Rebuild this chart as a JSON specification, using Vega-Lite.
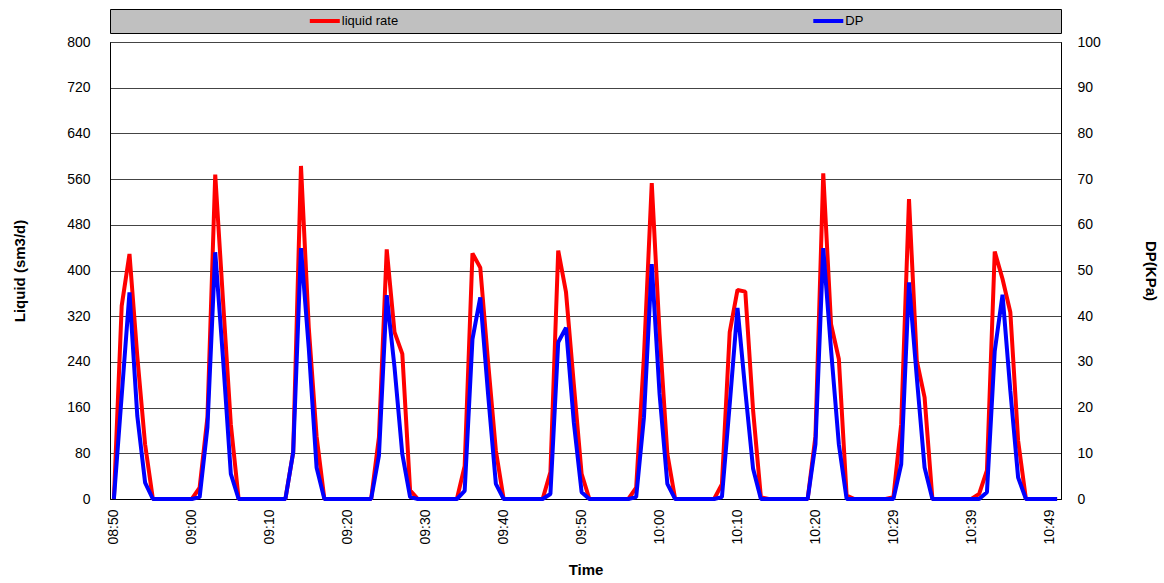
{
  "$schema": "https://vega.github.io/schema/vega-lite/v6.json",
  "background": "white",
  "padding": {"left": 12, "top": 8, "right": 4, "bottom": 4},
  "bounds": "flush",
  "spacing": 9,
  "config": {
    "font": "Liberation Sans",
    "axis": {"labelFont": "Liberation Sans", "titleFont": "Liberation Sans", "labelColor": "#000", "titleColor": "#000"}
  },
  "vconcat": [
    {
      "width": 951,
      "height": 24,
      "view": {"fill": "#c0c0c0", "stroke": "#000", "strokeWidth": 1},
      "data": {"values": [{"series": "liquid rate"}, {"series": "DP"}]},
      "encoding": {
        "x": {"field": "series", "type": "nominal", "scale": {"type": "point", "domain": ["liquid rate", "DP"], "padding": 0.4444, "align": 0.48}, "axis": null}
      },
      "layer": [
        {
          "mark": {"type": "point", "shape": "M-1,0L1,0", "size": 900, "strokeWidth": 4, "filled": false, "opacity": 1},
          "encoding": {"color": {"field": "series", "type": "nominal", "scale": {"domain": ["liquid rate", "DP"], "range": ["#ff0000", "#0000ff"]}, "legend": null}}
        },
        {
          "mark": {"type": "text", "align": "left", "dx": 17, "fontSize": 13, "font": "Liberation Sans", "color": "#000"},
          "encoding": {"text": {"field": "series"}}
        }
      ]
    },
    {
      "width": 951,
      "height": 457,
      "view": {"stroke": "#000", "strokeWidth": 1, "fill": "white"},
      "data": {"values": [
        {"time": "08:50:45", "liquid": 0, "dp": 0},
        {"time": "08:51:44", "liquid": 338, "dp": 22.6},
        {"time": "08:52:44", "liquid": 429, "dp": 45.2},
        {"time": "08:53:43", "liquid": 250, "dp": 18.2},
        {"time": "08:54:43", "liquid": 96, "dp": 3.6},
        {"time": "08:55:42", "liquid": 0, "dp": 0},
        {"time": "08:56:42", "liquid": 0, "dp": 0},
        {"time": "08:57:41", "liquid": 0, "dp": 0},
        {"time": "08:58:41", "liquid": 0, "dp": 0},
        {"time": "08:59:40", "liquid": 0, "dp": 0},
        {"time": "09:00:40", "liquid": 0, "dp": 0},
        {"time": "09:01:39", "liquid": 20, "dp": 0.4},
        {"time": "09:02:39", "liquid": 143, "dp": 15.7},
        {"time": "09:03:38", "liquid": 568, "dp": 54},
        {"time": "09:04:38", "liquid": 347, "dp": 30.7},
        {"time": "09:05:37", "liquid": 131, "dp": 5.5},
        {"time": "09:06:37", "liquid": 0, "dp": 0},
        {"time": "09:07:36", "liquid": 0, "dp": 0},
        {"time": "09:08:36", "liquid": 0, "dp": 0},
        {"time": "09:09:35", "liquid": 0, "dp": 0},
        {"time": "09:10:35", "liquid": 0, "dp": 0},
        {"time": "09:11:34", "liquid": 0, "dp": 0},
        {"time": "09:12:34", "liquid": 0, "dp": 0},
        {"time": "09:13:33", "liquid": 82, "dp": 10.2},
        {"time": "09:14:33", "liquid": 583, "dp": 54.9},
        {"time": "09:15:32", "liquid": 300, "dp": 33},
        {"time": "09:16:32", "liquid": 110, "dp": 6.9},
        {"time": "09:17:31", "liquid": 0, "dp": 0},
        {"time": "09:18:31", "liquid": 0, "dp": 0},
        {"time": "09:19:30", "liquid": 0, "dp": 0},
        {"time": "09:20:30", "liquid": 0, "dp": 0},
        {"time": "09:21:29", "liquid": 0, "dp": 0},
        {"time": "09:22:29", "liquid": 0, "dp": 0},
        {"time": "09:23:28", "liquid": 0, "dp": 0},
        {"time": "09:24:28", "liquid": 108, "dp": 9.5},
        {"time": "09:25:27", "liquid": 437, "dp": 44.6},
        {"time": "09:26:27", "liquid": 292, "dp": 28.8},
        {"time": "09:27:26", "liquid": 254, "dp": 9.8},
        {"time": "09:28:26", "liquid": 15, "dp": 0.4},
        {"time": "09:29:25", "liquid": 0, "dp": 0},
        {"time": "09:30:25", "liquid": 0, "dp": 0},
        {"time": "09:31:24", "liquid": 0, "dp": 0},
        {"time": "09:32:24", "liquid": 0, "dp": 0},
        {"time": "09:33:23", "liquid": 0, "dp": 0},
        {"time": "09:34:23", "liquid": 0, "dp": 0},
        {"time": "09:35:22", "liquid": 58, "dp": 1.8},
        {"time": "09:36:22", "liquid": 430, "dp": 35},
        {"time": "09:37:21", "liquid": 405, "dp": 44.1},
        {"time": "09:38:21", "liquid": 240, "dp": 23},
        {"time": "09:39:20", "liquid": 85, "dp": 3.3},
        {"time": "09:40:20", "liquid": 0, "dp": 0},
        {"time": "09:41:19", "liquid": 0, "dp": 0},
        {"time": "09:42:19", "liquid": 0, "dp": 0},
        {"time": "09:43:18", "liquid": 0, "dp": 0},
        {"time": "09:44:18", "liquid": 0, "dp": 0},
        {"time": "09:45:17", "liquid": 0, "dp": 0},
        {"time": "09:46:17", "liquid": 47, "dp": 1.1},
        {"time": "09:47:16", "liquid": 435, "dp": 34.3},
        {"time": "09:48:16", "liquid": 362, "dp": 37.5},
        {"time": "09:49:15", "liquid": 201, "dp": 16.8},
        {"time": "09:50:15", "liquid": 44, "dp": 1.5},
        {"time": "09:51:14", "liquid": 0, "dp": 0},
        {"time": "09:52:14", "liquid": 0, "dp": 0},
        {"time": "09:53:13", "liquid": 0, "dp": 0},
        {"time": "09:54:13", "liquid": 0, "dp": 0},
        {"time": "09:55:12", "liquid": 0, "dp": 0},
        {"time": "09:56:12", "liquid": 0, "dp": 0},
        {"time": "09:57:11", "liquid": 20, "dp": 0.4},
        {"time": "09:58:11", "liquid": 250, "dp": 17.9},
        {"time": "09:59:10", "liquid": 553, "dp": 51.4},
        {"time": "10:00:10", "liquid": 290, "dp": 23},
        {"time": "10:01:09", "liquid": 79, "dp": 3.3},
        {"time": "10:02:09", "liquid": 0, "dp": 0},
        {"time": "10:03:08", "liquid": 0, "dp": 0},
        {"time": "10:04:08", "liquid": 0, "dp": 0},
        {"time": "10:05:07", "liquid": 0, "dp": 0},
        {"time": "10:06:07", "liquid": 0, "dp": 0},
        {"time": "10:07:06", "liquid": 0, "dp": 0},
        {"time": "10:08:06", "liquid": 26, "dp": 0.4},
        {"time": "10:09:05", "liquid": 292, "dp": 20.7},
        {"time": "10:10:05", "liquid": 366, "dp": 41.8},
        {"time": "10:11:04", "liquid": 363, "dp": 23.7},
        {"time": "10:12:04", "liquid": 155, "dp": 6.6},
        {"time": "10:13:03", "liquid": 3, "dp": 0},
        {"time": "10:14:03", "liquid": 0, "dp": 0},
        {"time": "10:15:02", "liquid": 0, "dp": 0},
        {"time": "10:16:02", "liquid": 0, "dp": 0},
        {"time": "10:17:01", "liquid": 0, "dp": 0},
        {"time": "10:18:01", "liquid": 0, "dp": 0},
        {"time": "10:19:00", "liquid": 0, "dp": 0},
        {"time": "10:20:00", "liquid": 110, "dp": 12},
        {"time": "10:20:59", "liquid": 570, "dp": 54.9},
        {"time": "10:21:59", "liquid": 306, "dp": 32.7},
        {"time": "10:22:58", "liquid": 245, "dp": 12},
        {"time": "10:23:58", "liquid": 6, "dp": 0},
        {"time": "10:24:57", "liquid": 0, "dp": 0},
        {"time": "10:25:57", "liquid": 0, "dp": 0},
        {"time": "10:26:56", "liquid": 0, "dp": 0},
        {"time": "10:27:56", "liquid": 0, "dp": 0},
        {"time": "10:28:55", "liquid": 0, "dp": 0},
        {"time": "10:29:55", "liquid": 3, "dp": 0},
        {"time": "10:30:54", "liquid": 131, "dp": 7.6},
        {"time": "10:31:54", "liquid": 525, "dp": 47.4},
        {"time": "10:32:53", "liquid": 242, "dp": 26.6},
        {"time": "10:33:53", "liquid": 178, "dp": 6.9},
        {"time": "10:34:52", "liquid": 0, "dp": 0},
        {"time": "10:35:52", "liquid": 0, "dp": 0},
        {"time": "10:36:51", "liquid": 0, "dp": 0},
        {"time": "10:37:51", "liquid": 0, "dp": 0},
        {"time": "10:38:50", "liquid": 0, "dp": 0},
        {"time": "10:39:50", "liquid": 0, "dp": 0},
        {"time": "10:40:49", "liquid": 9, "dp": 0},
        {"time": "10:41:49", "liquid": 50, "dp": 1.5},
        {"time": "10:42:48", "liquid": 433, "dp": 32.4},
        {"time": "10:43:48", "liquid": 385, "dp": 44.7},
        {"time": "10:44:47", "liquid": 327, "dp": 23.7},
        {"time": "10:45:47", "liquid": 102, "dp": 4.7},
        {"time": "10:46:46", "liquid": 0, "dp": 0},
        {"time": "10:47:46", "liquid": 0, "dp": 0},
        {"time": "10:48:45", "liquid": 0, "dp": 0},
        {"time": "10:49:45", "liquid": 0, "dp": 0},
        {"time": "10:50:44", "liquid": 0, "dp": 0}
      ]},
      "encoding": {
        "x": {
          "field": "time", "type": "ordinal", "sort": null,
          "scale": {"type": "point", "padding": 0.5},
          "axis": {
            "title": "Time", "titleFontSize": 15, "titleFontWeight": "bold", "titlePadding": 18,
            "values": ["08:50:45", "09:00:40", "09:10:35", "09:20:30", "09:30:25", "09:40:20", "09:50:15", "10:00:10", "10:10:05", "10:20:00", "10:29:55", "10:39:50", "10:49:45"],
            "labelExpr": "substring(datum.value, 0, 5)",
            "labelAngle": -90, "labelFontSize": 14, "labelPadding": 10,
            "ticks": false, "grid": false, "domain": true, "domainColor": "#000", "domainWidth": 1
          }
        }
      },
      "layer": [
        {
          "mark": {"type": "line", "color": "#ff0000", "strokeWidth": 4, "strokeJoin": "bevel"},
          "encoding": {
            "y": {
              "field": "liquid", "type": "quantitative",
              "scale": {"domain": [0, 800], "nice": false, "zero": true},
              "axis": {
                "title": "Liquid (sm3/d)", "titleFontSize": 15, "titleFontWeight": "bold", "titlePadding": 39,
                "values": [0, 80, 160, 240, 320, 400, 480, 560, 640, 720, 800],
                "labelFontSize": 14, "labelPadding": 20, "ticks": false,
                "grid": true, "gridColor": "#444", "gridWidth": 1, "gridOpacity": 1,
                "domainColor": "#000"
              }
            }
          }
        },
        {
          "mark": {"type": "line", "color": "#0000ff", "strokeWidth": 4, "strokeJoin": "bevel"},
          "encoding": {
            "y": {
              "field": "dp", "type": "quantitative",
              "scale": {"domain": [0, 100], "nice": false, "zero": true},
              "axis": {
                "orient": "right",
                "title": "DP(KPa)", "titleFontSize": 15, "titleFontWeight": "bold", "titlePadding": 42,
                "values": [0, 10, 20, 30, 40, 50, 60, 70, 80, 90, 100],
                "labelFontSize": 14, "labelPadding": 16, "ticks": false,
                "grid": false, "domainColor": "#000"
              }
            }
          }
        }
      ],
      "resolve": {"scale": {"y": "independent"}}
    }
  ]
}
